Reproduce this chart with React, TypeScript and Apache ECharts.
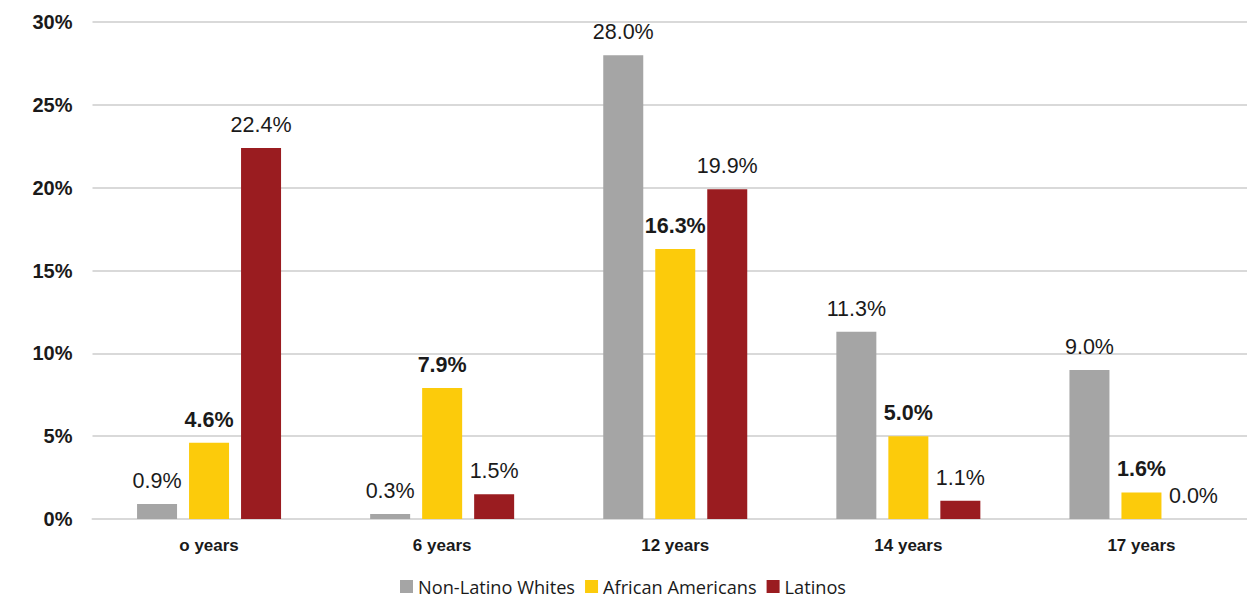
import React, { useEffect, useRef } from "react";
import * as echarts from "echarts";

const categories = ["o years", "6 years", "12 years", "14 years", "17 years"];
const whites = [0.9, 0.3, 28.0, 11.3, 9.0];
const africanAmericans = [4.6, 7.9, 16.3, 5.0, 1.6];
const latinos = [22.4, 1.5, 19.9, 1.1, 0.0];
const seriesNames = ["Non-Latino Whites", "African Americans", "Latinos"];
const colors = ["#A5A5A5", "#FCCB0B", "#9A1C20"];

export default function App() {
  const ref = useRef<HTMLDivElement>(null);
  useEffect(() => {
    if (!ref.current) return;
    const chart = echarts.init(ref.current, undefined, { renderer: "svg" });
    const font = "'Liberation Sans', Arial, sans-serif";
    const mk = (name: string, data: number[], color: string, bold: boolean) => ({
      name,
      type: "bar",
      data,
      barWidth: 40,
      barGap: "30%",
      itemStyle: { color },
      label: {
        show: true,
        position: "top",
        distance: 12,
        formatter: (p: any) => p.value.toFixed(1) + "%",
        fontFamily: font,
        fontSize: 21.5,
        fontWeight: bold ? "bold" : "normal",
        color: "#1a1a1a",
      },
    });
    chart.setOption({
      animation: false,
      grid: { left: 92.5, right: 0, top: 22, bottom: 80 },
      legend: {
        top: 577,
        left: 400,
        padding: 0,
        itemWidth: 13,
        itemHeight: 13,
        itemGap: 10,
        icon: "rect",
        textStyle: { fontFamily: "'Open Sans', sans-serif", fontSize: 18.2, lineHeight: 19, color: "#1a1a1a" },
        data: seriesNames,
      },
      xAxis: {
        type: "category",
        data: categories,
        axisLine: { lineStyle: { color: "#D9D9D9", width: 2 } },
        axisTick: { show: false },
        axisLabel: { fontFamily: font, fontSize: 17, fontWeight: "bold", color: "#1a1a1a", margin: 18 },
      },
      yAxis: {
        type: "value",
        min: 0,
        max: 30,
        interval: 5,
        axisLine: { show: false },
        axisTick: { show: false },
        splitLine: { lineStyle: { color: "#D9D9D9", width: 2 } },
        axisLabel: { formatter: "{value}%", fontFamily: font, fontSize: 20, fontWeight: "bold", color: "#1a1a1a", margin: 20 },
      },
      series: [
        mk(seriesNames[0], whites, colors[0], false),
        mk(seriesNames[1], africanAmericans, colors[1], true),
        mk(seriesNames[2], latinos, colors[2], false),
      ],
    });
    return () => chart.dispose();
  }, []);
  return (
    <div style={{ position: "absolute", left: 0, top: 0, width: 1247, height: 599, overflow: "hidden" }}>
      <div ref={ref} style={{ position: "absolute", left: 0, top: 0, width: 1258, height: 599 }} />
    </div>
  );
}
